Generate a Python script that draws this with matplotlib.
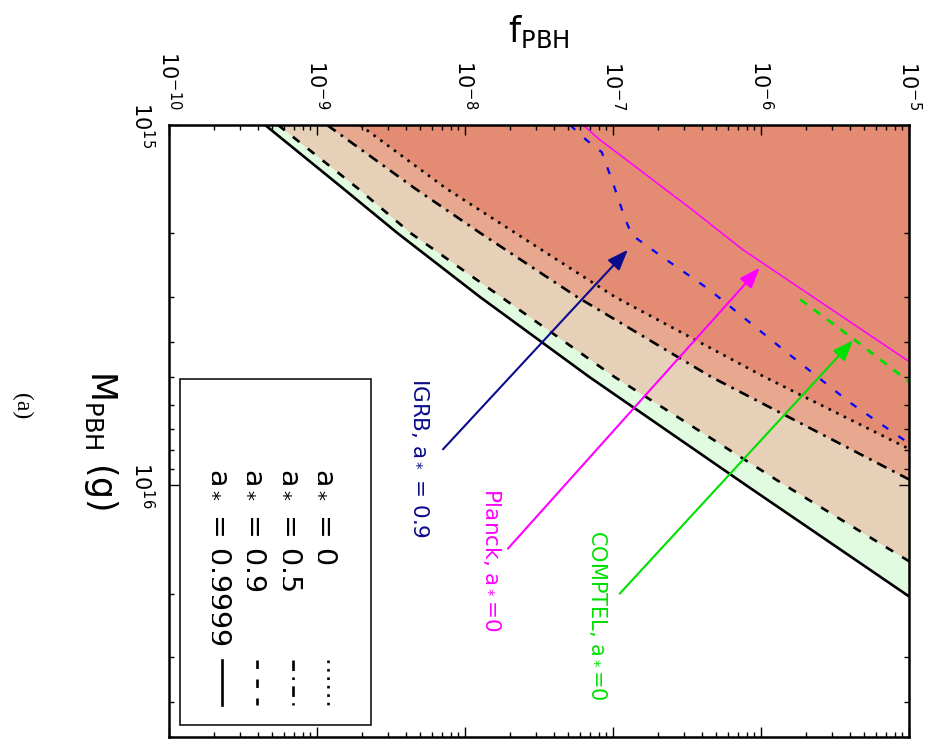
import matplotlib
matplotlib.use("Agg")
import matplotlib.pyplot as plt
from matplotlib.patches import Rectangle
from matplotlib.ticker import NullFormatter

# masses (g) where the spin-dependent bounds were read
M_grid = [1e15, 1.5e15, 2e15, 3e15, 5e15, 1e16, 2e16, 5e16]
# upper bounds on f_PBH for each spin
f_a0 = [1.95e-9, 7.45e-9, 2.21e-8, 1.03e-7, 1.05e-6, 3.11e-5, 9.12e-4, 8.1e-2]
f_a05 = [1.17e-9, 4.59e-9, 1.28e-8, 5.71e-8, 4.59e-7, 1.19e-5, 3.02e-4, 2.19e-2]
f_a09 = [5.45e-10, 1.89e-9, 4.32e-9, 1.75e-8, 1.02e-7, 1.45e-6, 2.28e-5, 8.17e-4]
f_a09999 = [4.46e-10, 1.50e-9, 3.52e-9, 1.26e-8, 6.89e-8, 7.93e-7, 9.4e-6, 2.34e-4]

# other bounds
M_igrb = [1.00e15, 1.10e15, 1.19e15, 1.45e15, 1.81e15, 2.02e15, 2.32e15, 2.87e15, 4.2e15, 5.9e15, 7.7e15]
f_igrb = [5.12e-8, 6.6e-8, 8.4e-8, 1.0e-7, 1.2e-7, 1.34e-7, 2.14e-7, 4.5e-7, 1.41e-6, 4.0e-6, 1.02e-5]
M_planck = [1.00e15, 1.10e15, 1.27e15, 1.70e15, 2.22e15, 4.56e15]
f_planck = [6.27e-8, 8.17e-8, 1.30e-7, 3.31e-7, 7.55e-7, 1.02e-5]
M_comptel = [3.05e15, 3.86e15, 5.19e15]
f_comptel = [1.84e-6, 3.99e-6, 1.02e-5]

# arrows (tail, tip) as (f, M)
arrow_igrb = [(7.1e-9, 7.95e15), (1.26e-7, 2.22e15)]
arrow_planck = [(1.95e-8, 1.50e16), (9.8e-7, 2.49e15)]
arrow_comptel = [(1.11e-7, 2.0e16), (4.19e-6, 3.96e15)]

f_ticks = [1e-10, 1e-9, 1e-8, 1e-7, 1e-6, 1e-5]
f_ticklabels = ['$10^{-10}$', '$10^{-9}$', '$10^{-8}$', '$10^{-7}$', '$10^{-6}$', '$10^{-5}$']
M_ticks = [1e15, 1e16]
M_ticklabels = ['$10^{15}$', '$10^{16}$']

leg_labels = ['a$_*$ = 0', 'a$_*$ = 0.5', 'a$_*$ = 0.9', 'a$_*$ = 0.9999']

plt.rcParams['font.family'] = 'DejaVu Sans'
plt.rcParams['mathtext.fontset'] = 'dejavusans'

fig = plt.figure(figsize=(9.29, 7.42), dpi=100)
ax = fig.add_axes([169/929, 5/742, 740/929, 612/742])

# excluded regions, stacked from the weakest bound to the strongest
fills = [(f_a09999, '#e1fbe1'), (f_a09, '#e6d0b7'), (f_a05, '#e8a890'), (f_a0, '#e48b74')]
for fv, col in fills:
    ax.fill_betweenx(M_grid, fv, 1.0, color=col, lw=0, zorder=1)

styles = [(0, (1.0, 2.2)), (0, (4.0, 2.4, 1.0, 2.4)), (0, (3.2, 4.0)), '-']
curves = [f_a0, f_a05, f_a09, f_a09999]
for fv, ls in zip(curves, styles):
    ax.plot(fv, M_grid, color='black', lw=1.9, ls=ls, zorder=3)

ax.plot(f_igrb, M_igrb, color='#0000ff', lw=1.6, ls=(0, (3.2, 5.5)), zorder=4)
ax.plot(f_planck, M_planck, color='#ff00ff', lw=1.1, zorder=4)
ax.plot(f_comptel, M_comptel, color='#00e000', lw=2.0, ls=(0, (3.0, 3.0)), zorder=4)

# arrows + labels
arrows = [(arrow_igrb, '#0a0a8c'), (arrow_planck, '#ff00ff'), (arrow_comptel, '#00e000')]
for (tail, tip), col in arrows:
    ax.annotate('', xy=tip, xytext=tail,
                arrowprops=dict(arrowstyle='-|>,head_length=0.45,head_width=0.17',
                                color=col, lw=1.5, mutation_scale=28,
                                shrinkA=0, shrinkB=0), zorder=5)

ax.text(0.339, 0.587, 'IGRB, a$_*$ = 0.9', color='#0a0a8c', fontsize=15.5,
        rotation=-90, ha='center', va='top', transform=ax.transAxes)
ax.text(0.4365, 0.407, 'Planck, a$_*$=0', color='#ff00ff', fontsize=15.5,
        rotation=-90, ha='center', va='top', transform=ax.transAxes)
ax.text(0.580, 0.338, 'COMPTEL, a$_*$=0', color='#00e000', fontsize=15,
        rotation=-90, ha='center', va='top', transform=ax.transAxes)

ax.set_xscale('log')
ax.set_yscale('log')
ax.set_xlim(1e-10, 1e-5)
ax.set_ylim(5e16, 1e15)

ax.set_xticks(f_ticks, labels=f_ticklabels)
ax.set_yticks(M_ticks, labels=M_ticklabels)
ax.xaxis.set_minor_formatter(NullFormatter())
ax.yaxis.set_minor_formatter(NullFormatter())
ax.tick_params(axis='x', which='both', direction='in', top=True, bottom=True,
               labeltop=True, labelbottom=False)
ax.tick_params(axis='y', which='both', direction='in', left=True, right=True)
ax.tick_params(which='major', length=7.5, width=1.0)
ax.tick_params(which='minor', length=3.8, width=1.0)
ax.tick_params(axis='x', labelrotation=-90, labelsize=15, pad=11)
ax.tick_params(axis='y', labelrotation=-90, labelsize=15, pad=10)
for t in ax.get_yticklabels():
    t.set_va('center')
for sp in ax.spines.values():
    sp.set_linewidth(1.8)
    sp.set_zorder(6)

# legend drawn by hand (rotated entries)
ax.add_patch(Rectangle((0.0149, 0.0196), 0.258, 0.5654, transform=ax.transAxes,
                       facecolor='white', edgecolor='black', lw=1.1, zorder=7))
for i, (lab, ls) in enumerate(zip(leg_labels, styles)):
    xc = 0.2149 - i * 0.0477
    ax.text(xc, 0.4395, lab, rotation=-90, fontsize=20.5, ha='center', va='top',
            transform=ax.transAxes, zorder=8)
    ax.plot([xc, xc], [0.1258, 0.0523], color='black', lw=1.9, ls=ls,
            transform=ax.transAxes, zorder=8)

fig.text(539/929, 1 - 32/742, r'$\mathregular{f_{PBH}}$', fontsize=25,
         ha='center', va='center')
fig.text(101/929, 1 - 370/742, r'$\mathregular{M_{PBH}}$ (g)', fontsize=25,
         rotation=-90, ha='center', va='top')
fig.text(22/929, 1 - 406/742, '(a)', fontsize=17, family='Liberation Serif',
         rotation=-90, ha='center', va='center')

fig.savefig('out.png', dpi=100)
